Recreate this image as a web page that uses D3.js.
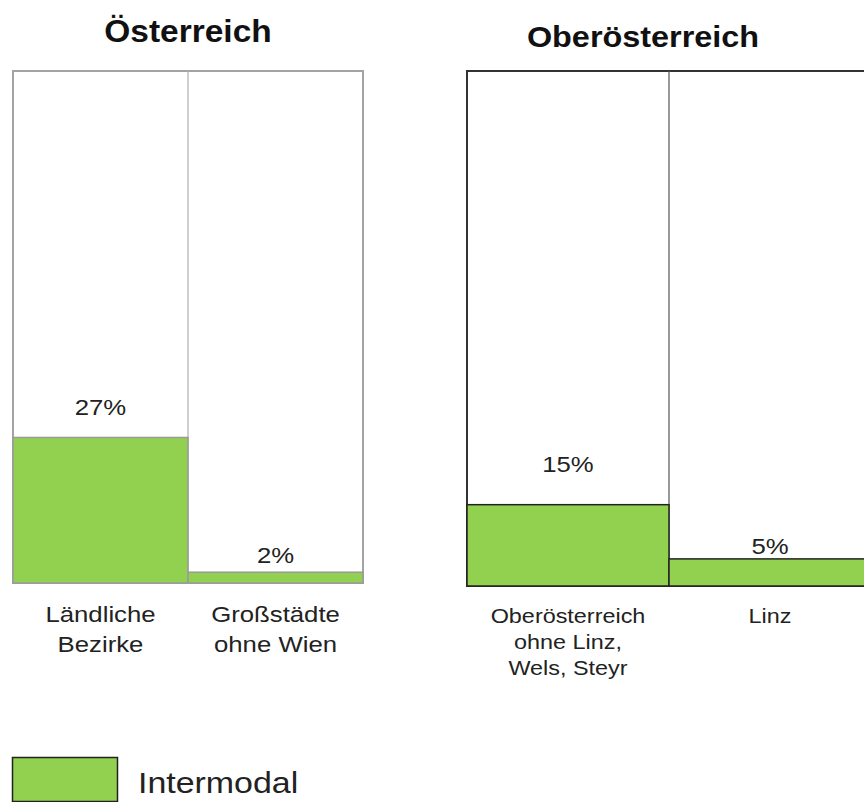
<!DOCTYPE html>
<html>
<head>
<meta charset="utf-8">
<script src="https://cdn.jsdelivr.net/npm/d3@7"></script>
<style>
  html, body { margin: 0; padding: 0; background: #fff; }
  svg { display: block; font-family: "Liberation Sans", Arial, sans-serif; }
</style>
</head>
<body>
<div id="chart"></div>
<script>
// data
const seriesName = "Intermodal";
const titles = ["Österreich", "Oberösterreich"];
const categoriesAT = ["Ländliche\nBezirke", "Großstädte\nohne Wien"];
const valuesAT = [27, 2];
const categoriesOOE = ["Oberösterreich\nohne Linz,\nWels, Steyr", "Linz"];
const valuesOOE = [15, 5];

// layout for each panel
const panels = [
  {
    title: titles[0], cats: categoriesAT, vals: valuesAT,
    x0: 13, x1: 363, top: 71, bottom: 583, titleX: 188, titleY: 42, titleSize: 31,
    border: "#a3a3a3", divider: "#b0b0b0", barStroke: "#9a9a9a",
    catSize: 22, catLine: 30, catY: 622,
    labelGap: [22, 9]
  },
  {
    title: titles[1], cats: categoriesOOE, vals: valuesOOE,
    x0: 467, x1: 871, top: 71, bottom: 586, titleX: 643, titleY: 47, titleSize: 30,
    border: "#333", divider: "#555", barStroke: "#222",
    catSize: 20, catLine: 26, catY: 623,
    labelGap: [33, 5]
  }
];

const green = "#92d050";
const sx = 1.17; // picture is a bit stretched sideways

const svg = d3.select("#chart").append("svg")
  .attr("width", 864)
  .attr("height", 802);

panels.forEach((p) => {
  const x = d3.scaleBand().domain(p.cats).range([p.x0, p.x1]).padding(0);
  const y = d3.scaleLinear().domain([0, 95]).range([p.bottom, p.top]);
  const g = svg.append("g");

  g.append("text")
    .attr("transform", `translate(${p.titleX},${p.titleY}) scale(1.08,1)`)
    .attr("text-anchor", "middle")
    .attr("font-size", p.titleSize)
    .attr("font-weight", "bold")
    .attr("fill", "#111")
    .text(p.title);

  // frame
  g.append("rect")
    .attr("x", p.x0)
    .attr("y", y(95))
    .attr("width", p.x1 - p.x0)
    .attr("height", y(0) - y(95))
    .attr("fill", "#fff")
    .attr("stroke", p.border)
    .attr("stroke-width", 2);

  g.selectAll(".div")
    .data(p.cats.slice(1))
    .enter()
    .append("line")
    .attr("x1", (d) => x(d))
    .attr("x2", (d) => x(d))
    .attr("y1", y(95))
    .attr("y2", y(0))
    .attr("stroke", p.divider)
    .attr("stroke-width", 1.2);

  g.selectAll(".bar")
    .data(p.vals)
    .enter()
    .append("rect")
    .attr("x", (d, i) => x(p.cats[i]))
    .attr("y", (d) => y(d))
    .attr("width", x.bandwidth())
    .attr("height", (d) => y(0) - y(d))
    .attr("fill", green)
    .attr("stroke", p.barStroke)
    .attr("stroke-width", 1.5);

  g.selectAll(".val")
    .data(p.vals)
    .enter()
    .append("text")
    .attr("transform", (d, i) =>
      `translate(${x(p.cats[i]) + x.bandwidth() / 2},${y(d) - p.labelGap[i]}) scale(${sx},1)`)
    .attr("text-anchor", "middle")
    .attr("font-size", 22)
    .attr("fill", "#222")
    .text((d) => d + "%");

  p.cats.forEach((c) => {
    c.split("\n").forEach((line, j) => {
      g.append("text")
        .attr("transform",
          `translate(${x(c) + x.bandwidth() / 2},${p.catY + j * p.catLine}) scale(${sx},1)`)
        .attr("text-anchor", "middle")
        .attr("font-size", p.catSize)
        .attr("fill", "#222")
        .text(line);
    });
  });
});

// legend
const legend = svg.append("g");
legend.append("rect")
  .attr("x", 12.5)
  .attr("y", 757.5)
  .attr("width", 105)
  .attr("height", 44)
  .attr("fill", green)
  .attr("stroke", "#222")
  .attr("stroke-width", 1.5);
legend.append("text")
  .attr("transform", `translate(138,793) scale(${sx},1)`)
  .attr("font-size", 29)
  .attr("fill", "#222")
  .text(seriesName);
</script>
</body>
</html>
